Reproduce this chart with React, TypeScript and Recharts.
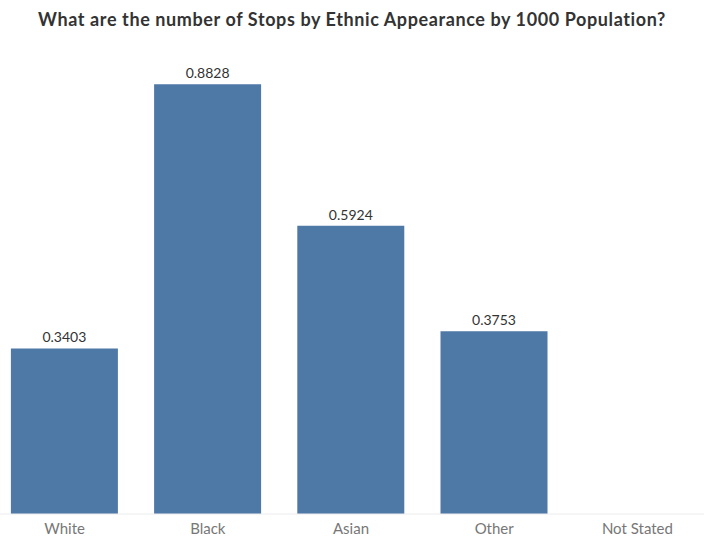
import React from 'react';
import { BarChart, Bar, XAxis, YAxis, LabelList } from 'recharts';

const categories = ['White', 'Black', 'Asian', 'Other', 'Not Stated'];
const stopsPer1000: (number | null)[] = [0.3403, 0.8828, 0.5924, 0.3753, null];

const data = categories.map((name, i) => ({ name, value: stopsPer1000[i] }));

const FONT = 'Lato, "Open Sans", sans-serif';

export default function App() {
  return (
    <div
      style={{
        position: 'absolute',
        left: 0,
        top: 0,
        width: 704,
        height: 556,
        overflow: 'hidden',
        background: '#fff',
        fontFamily: FONT,
      }}
    >
      <div
        style={{
          position: 'absolute',
          top: 7,
          left: 0,
          width: 704,
          textAlign: 'center',
          fontSize: 18,
          fontWeight: 700,
          letterSpacing: 0.6,
          color: '#333333',
          lineHeight: '24px',
        }}
      >
        What are the number of Stops by Ethnic Appearance by 1000 Population?
      </div>
      <div style={{ position: 'absolute', left: -7, top: 0 }}>
        <BarChart
          width={716}
          height={556}
          data={data}
          margin={{ top: 76, right: 0, bottom: 12, left: 0 }}
          barCategoryGap="12.5%"
        >
          <XAxis
            dataKey="name"
            axisLine={{ stroke: '#ececec' }}
            tickLine={false}
            tick={{ fill: '#777777', fontSize: 15, fontFamily: FONT }}
            height={30}
            tickMargin={3}
          />
          <YAxis hide domain={[0, 0.9]} />
          <Bar dataKey="value" fill="#4e79a7" isAnimationActive={false}>
            <LabelList
              dataKey="value"
              position="top"
              offset={6}
              formatter={(v: number) => (v == null ? '' : v.toFixed(4))}
              style={{ fill: '#333333', fontSize: 14, fontFamily: FONT }}
            />
          </Bar>
        </BarChart>
      </div>
    </div>
  );
}
